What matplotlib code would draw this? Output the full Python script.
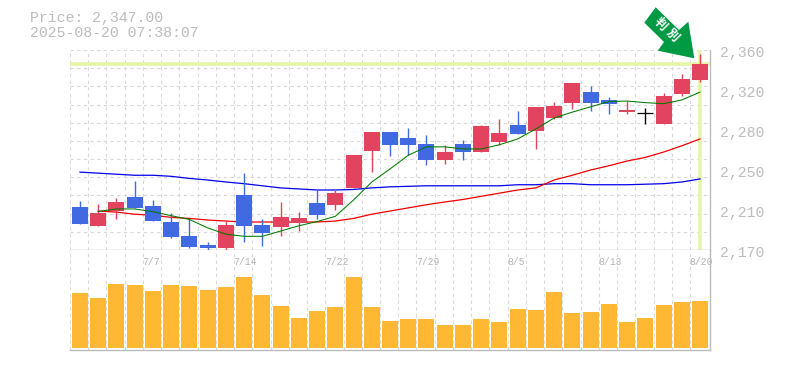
import numpy as np
import matplotlib
matplotlib.use('Agg')
import matplotlib.pyplot as plt
from matplotlib.patches import Polygon

W, H = 785, 370
GRAY = '#bcbcbc'
GRID = '#d8d8d8'
RED = '#e2445f'
BLUE = '#4169e1'
ORANGE = '#ffb833'
HILITE = '#e4f5a8'
ARROW = '#009a44'

opens = [2211, 2193, 2207, 2220, 2212, 2196.6, 2183, 2175, 2172, 2222, 2194, 2192, 2196, 2215, 2213, 2229, 2264, 2282,
         2276.4, 2271, 2255.5, 2271, 2263, 2272.6, 2289, 2283, 2295.4, 2310, 2320, 2312.5, 2301, 2300, 2290, 2318, 2331.5]
closes = [2195, 2205, 2215.6, 2210, 2197.5, 2182, 2173, 2172, 2194, 2193, 2186, 2201, 2200, 2203, 2224, 2260, 2282, 2270,
          2270, 2255.5, 2263, 2263, 2288, 2281, 2280, 2306, 2307, 2329, 2310, 2309, 2303, 2300, 2316, 2332, 2347]
highs = [2216.5, 2214, 2219, 2235.5, 2217.5, 2205, 2199, 2178, 2198.5, 2243, 2199, 2215.6, 2206, 2227, 2227, 2260, 2282, 2282,
         2286, 2279, 2270, 2274.5, 2289, 2294.5, 2302, 2306, 2310.6, 2329, 2326, 2315, 2311.5, 2305, 2319, 2337, 2356]
lows = [2195, 2193, 2199, 2210, 2197.5, 2181, 2172, 2169, 2169, 2178, 2174, 2183, 2188, 2199, 2208, 2229, 2244, 2259,
        2260, 2251, 2252, 2255.5, 2263, 2270, 2280, 2266, 2294.5, 2304, 2302, 2299, 2299, 2290, 2290, 2316, 2330]

# moving averages, the short and mid ones start on the second day
ma_short = [2206.6, 2209, 2209, 2206.4, 2202.6, 2199, 2191, 2185, 2183, 2183, 2188, 2193, 2197, 2202, 2217.5, 2234.6, 2247,
            2260, 2268, 2268, 2266, 2266, 2270, 2275.5, 2285, 2295.4, 2301, 2306, 2311, 2311.5, 2310, 2309, 2312.5, 2320]
ma_mid = [2207, 2206, 2204, 2203, 2201, 2200, 2198.5, 2197.5, 2196.6, 2196.6, 2196.6, 2196.6, 2196.6, 2197.5, 2200, 2204, 2207,
          2210, 2213, 2215.6, 2218, 2221, 2224, 2227, 2229, 2236.5, 2241, 2246, 2250, 2254.5, 2258, 2263, 2269, 2275.5]
ma_long = [2244, 2243, 2242, 2241, 2241, 2240, 2238, 2236.5, 2234.6, 2233, 2231, 2229, 2228, 2227, 2227, 2227.5, 2229, 2230,
           2230.5, 2231, 2231, 2231, 2231, 2231, 2232, 2232, 2233, 2233, 2232, 2232, 2232, 2232.5, 2233, 2234.6, 2237.5]

volumes = [553, 503, 643, 633, 573, 633, 623, 583, 613, 713, 533, 423, 303, 373, 413, 713, 413, 273,
           293, 293, 233, 233, 293, 263, 393, 383, 563, 353, 363, 443, 263, 303, 433, 463, 473]

date_idx = [4, 9, 14, 19, 24, 29, 34]
date_labels = ['7/7', '7/14', '7/22', '7/29', '8/5', '8/13', '8/20']
price_labels = ['2,360', '2,320', '2,280', '2,250', '2,210', '2,170']
last_price = 2347

plt.rcParams['font.family'] = ['Liberation Mono', 'DejaVu Sans Mono']

fig = plt.figure(figsize=(W / 100, H / 100), dpi=100)


def px_axes(left, top, right, bottom):
    return fig.add_axes([left / W, 1 - bottom / H, (right - left) / W, (bottom - top) / H])


ax = px_axes(70, 50, 710, 250)
ax_vol = px_axes(70, 250, 710, 350)

days = np.arange(len(opens))
XPAD = 0.548
CANDLE_W = 0.877

for a in (ax, ax_vol):
    a.set_xlim(-XPAD, days[-1] + XPAD)
    a.set_xticks(days - XPAD)
    a.tick_params(length=0, labelbottom=False, labelleft=False)
    a.set_axisbelow(True)
    a.grid(axis='x', color=GRID, lw=0.8, ls=(0, (3, 3)))
    a.spines['top'].set_visible(False)
    a.spines['left'].set_visible(False)
    a.spines['right'].set_color(GRAY)
    a.spines['bottom'].set_color(GRAY)
    a.spines['right'].set_linewidth(1.0)
    a.spines['bottom'].set_linewidth(1.0)

################### Price ###################
ax.set_ylim(2170, 2360)
ax.set_yticks(np.linspace(2170, 2360, 12))
ax.grid(axis='y', color=GRID, lw=0.8, ls=(0, (3, 3)))

ax.axhline(last_price, color=HILITE, lw=2.6, zorder=1, xmax=0.997)
ax.axvline(days[-1], color=HILITE, lw=2.6, zorder=1, ymax=0.995)

ax.plot(days, ma_long, color='#0000ee', lw=0.9, zorder=2)
ax.plot(days[1:], ma_mid, color='#ee0000', lw=0.9, zorder=2)

for i in days:
    o, c = opens[i], closes[i]
    if c > o:
        color = RED
    elif c < o:
        color = BLUE
    else:
        color = 'black'
    ax.vlines(i, lows[i], highs[i], color=color, lw=1.0, zorder=3)
    if c == o:
        ax.hlines(o, i - CANDLE_W / 2, i + CANDLE_W / 2, color=color, lw=0.9, zorder=3)
    else:
        ax.bar(i, abs(c - o), bottom=min(o, c), width=CANDLE_W, color=color, zorder=3)

ax.plot(days[1:], ma_short, color='#007a00', lw=0.75, zorder=4)

for y, label in zip(np.linspace(2360, 2170, len(price_labels)), price_labels):
    ax.annotate(label, (1, y), xycoords=ax.get_yaxis_transform(), xytext=(7.2, -2.2), textcoords='offset points',
                ha='left', va='center', color=GRAY, fontsize=10.75, annotation_clip=False)

################### Volume ###################
ax_vol.set_ylim(-17, 983)
ax_vol.bar(days, volumes, width=CANDLE_W, color=ORANGE, zorder=3)

for i, label in zip(date_idx, date_labels):
    ax_vol.text(i - 0.58, 0.88, label, transform=ax_vol.get_xaxis_transform(), ha='left', va='center',
                color='#b4b4b4', fontsize=7.0, zorder=5)

################### Header and arrow ###################
fig.text(30 / W, 1 - 18 / H, f'Price: {last_price:,.2f}', color=GRAY, fontsize=10.75, va='center')
fig.text(30 / W, 1 - 33 / H, '2025-08-20 07:38:07', color=GRAY, fontsize=10.75, va='center')

arrow_px = [(655.7, 7.3), (644.3, 22.7), (664, 42), (657.7, 50.7), (694.3, 58.3), (688.3, 21.7), (679, 30)]
arrow_xy = [(x / W, 1 - y / H) for x, y in arrow_px]
fig.add_artist(Polygon(arrow_xy, closed=True, transform=fig.transFigure, facecolor=ARROW, edgecolor='none', zorder=10))
for ch, x, y in [('判', 660, 24.5), ('別', 672, 35.5)]:
    fig.text(x / W, 1 - y / H, ch, color='white', fontsize=9, fontweight='bold', rotation=-45, rotation_mode='anchor',
             ha='center', va='center', family='Noto Sans CJK JP', zorder=11)

fig.savefig('out.png', dpi=100)
